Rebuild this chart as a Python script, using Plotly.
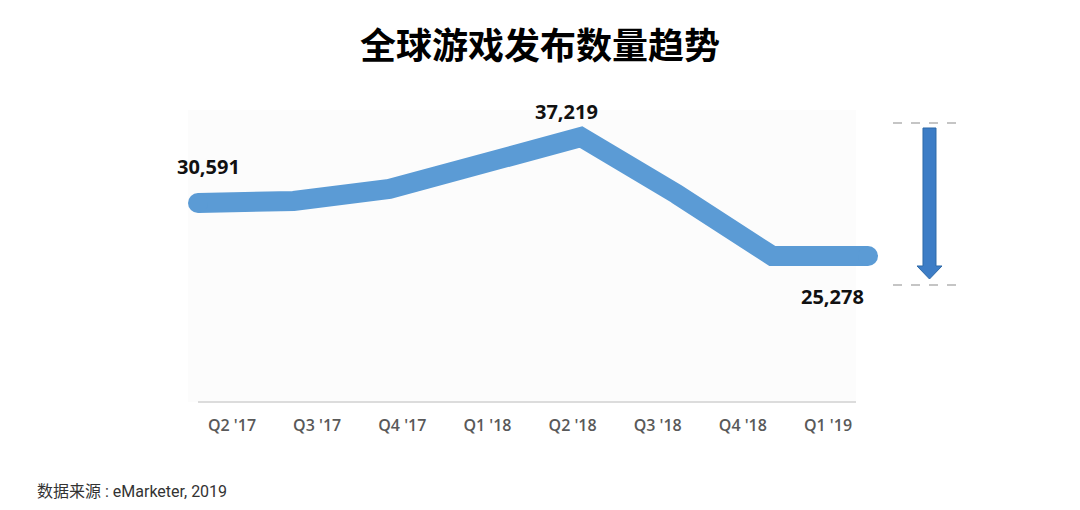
import plotly.graph_objects as go

quarters = ["Q2 '17", "Q3 '17", "Q4 '17", "Q1 '18", "Q2 '18", "Q3 '18", "Q4 '18", "Q1 '19"]
games_released = [30591, 30800, 32000, 34600, 37219, 31500, 25278, 25278]
labelled_idx = [0, 4, 7]
label_shift = {0: (10, 37), 4: (-14, 26), 7: (-36, -40)}

title_text = "全球游戏发布数量趋势"
source_text = "数据来源 : eMarketer, 2019"

# the page body adds an 8px margin; compensate so screen pixels match
OFF = 8
W, H = 1080 - OFF, 510 - OFF
LINE_BLUE = "#5b9bd5"
ARROW_BLUE = "#3d7dc6"


def px(x):
    return (x - OFF) / W


def py(y):
    return 1 - (y - OFF) / H


fig = go.Figure()

fig.add_trace(go.Scatter(
    x=list(range(len(quarters))), y=games_released, mode="lines",
    line=dict(color=LINE_BLUE, width=20), hoverinfo="skip", showlegend=False,
))
fig.add_trace(go.Scatter(
    x=[0, len(quarters) - 1], y=[games_released[0], games_released[-1]], mode="markers",
    marker=dict(color=LINE_BLUE, size=20, line=dict(width=0)),
    hoverinfo="skip", showlegend=False,
))
fig.add_trace(go.Scatter(
    x=quarters, y=games_released, xaxis="x2", mode="markers",
    marker=dict(opacity=0), hoverinfo="skip", showlegend=False,
))

for i in labelled_idx:
    dx, dy = label_shift[i]
    fig.add_annotation(
        x=i, y=games_released[i], text=f"{games_released[i]:,}", showarrow=False,
        xshift=dx, yshift=dy,
        font=dict(family="Open Sans, Lato, sans-serif", size=20, color="#111111", weight=700),
    )

fig.add_annotation(
    x=px(540), y=py(43), xref="paper", yref="paper", text=title_text, showarrow=False,
    font=dict(family="Noto Sans CJK SC", size=36, color="#000000", weight=700),
    xanchor="center", yanchor="middle",
)
fig.add_annotation(
    x=px(35), y=py(491), xref="paper", yref="paper", text=source_text, showarrow=False,
    font=dict(family="Roboto, Noto Sans CJK SC", size=16, color="#333333"),
    xanchor="left", yanchor="middle",
)

shapes = [
    dict(type="rect", xref="paper", yref="paper", layer="below",
         x0=px(188), x1=px(856), y0=py(402), y1=py(110),
         fillcolor="#fcfcfc", line=dict(width=0)),
    dict(type="line", xref="paper", yref="paper", layer="below",
         x0=px(198), x1=px(856), y0=py(402), y1=py(402),
         line=dict(color="#dcdcdc", width=2)),
    dict(type="line", xref="paper", yref="paper",
         x0=px(893), x1=px(962), y0=py(123), y1=py(123),
         line=dict(color="#8c8c8c", width=1.2, dash="dash")),
    dict(type="line", xref="paper", yref="paper",
         x0=px(893), x1=px(962), y0=py(285), y1=py(285),
         line=dict(color="#8c8c8c", width=1.2, dash="dash")),
]

ax_c, sw, hw = 929.5, 6.5, 12.5
top, head_y, tip = 128, 266, 279
pts = [(ax_c - sw, top), (ax_c + sw, top), (ax_c + sw, head_y), (ax_c + hw, head_y),
       (ax_c, tip), (ax_c - hw, head_y), (ax_c - sw, head_y)]
path = "M " + " L ".join(f"{px(x):.5f},{py(y):.5f}" for x, y in pts) + " Z"
shapes.append(dict(type="path", xref="paper", yref="paper", path=path,
                   fillcolor=ARROW_BLUE, line=dict(color="#2f6aa8", width=1)))

n = len(quarters)
line_x0, line_x1 = 198 - OFF, 868 - OFF
step = (line_x1 - line_x0) / (n - 1)
r0 = -line_x0 / step
r1 = r0 + W / step

tick_x0, tick_x1 = 232 - OFF, 828 - OFF
tstep = (tick_x1 - tick_x0) / (n - 1)
t0 = -tick_x0 / tstep
t1 = t0 + W / tstep

vpp = (37219 - 25278) / (256 - 137)
top_px = 137 - OFF
y_top = 37219 + top_px * vpp
y_bot = 37219 - (H - top_px) * vpp

fig.update_layout(
    width=W, height=H, margin=dict(l=0, r=0, t=0, b=0),
    paper_bgcolor="white", plot_bgcolor="rgba(0,0,0,0)",
    shapes=shapes,
    xaxis=dict(range=[r0, r1], visible=False, domain=[0, 1]),
    xaxis2=dict(type="category", categoryorder="array", categoryarray=quarters,
                range=[t0, t1], overlaying="x", anchor="free", position=py(414),
                showline=False, showgrid=False, zeroline=False, ticks="",
                tickfont=dict(family="Open Sans, sans-serif", size=16, color="#595959", weight=600),
                side="bottom"),
    yaxis=dict(range=[y_bot, y_top], visible=False, domain=[0, 1]),
    showlegend=False,
)

fig.write_html("out.html")
